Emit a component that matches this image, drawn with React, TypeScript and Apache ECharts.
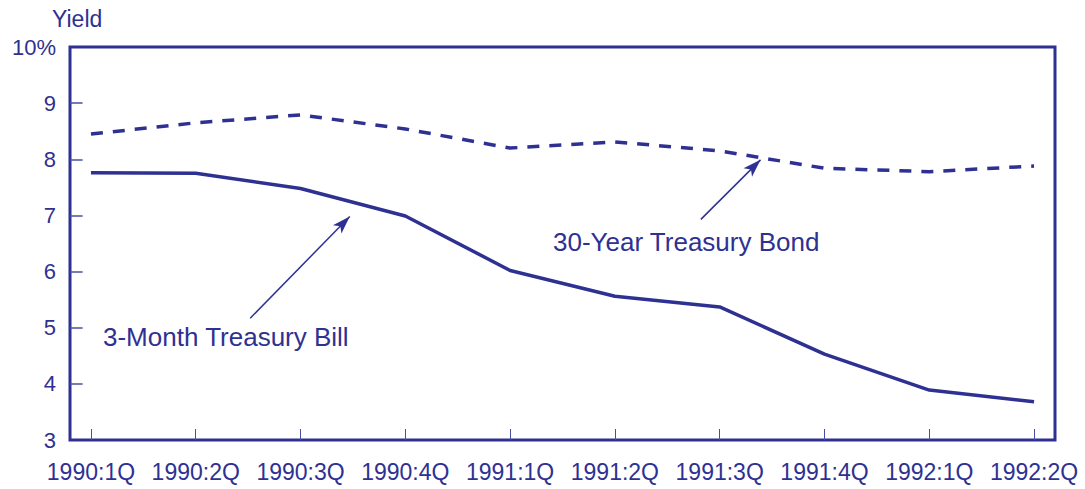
import React, { useEffect, useRef } from "react";
import * as echarts from "echarts";

const categories = ["1990:1Q", "1990:2Q", "1990:3Q", "1990:4Q", "1991:1Q", "1991:2Q", "1991:3Q", "1991:4Q", "1992:1Q", "1992:2Q"];
const billValues = [7.76, 7.75, 7.48, 6.99, 6.02, 5.56, 5.37, 4.53, 3.89, 3.68];
const bondValues = [8.45, 8.65, 8.79, 8.54, 8.2, 8.31, 8.15, 7.84, 7.78, 7.88];
const yTicks = [3, 4, 5, 6, 7, 8, 9, 10];
const billArrow = [[1.52, 5.17], [2.47, 6.98]];
const bondArrow = [[5.82, 6.93], [6.39, 7.99]];

const C = "#2e3192";
const TICK = "#4a4ea0";
const FONT = "Liberation Sans";
const PAD = 0.2;
const TICK_LEN = 0.12;

export default function App() {
  const ref = useRef<HTMLDivElement>(null);
  useEffect(() => {
    const chart = echarts.init(ref.current!, null, { renderer: "svg" });
    const pos = categories.map((_, i) => i + PAD);
    const arrowLine = (pts: number[][]) => ({
      silent: true,
      symbol: ["none", "arrow"],
      symbolSize: [9, 18],
      lineStyle: { color: C, width: 1.5, type: "solid" },
      label: { show: false },
      data: [[{ coord: [pts[0][0] + PAD, pts[0][1]] }, { coord: [pts[1][0] + PAD, pts[1][1]] }]],
    });
    chart.setOption({
      animation: false,
      backgroundColor: "#ffffff",
      grid: { left: 70, top: 47, right: 30, bottom: 49, show: true, borderColor: C, borderWidth: 3, backgroundColor: "transparent" },
      xAxis: {
        type: "value",
        min: 0,
        max: categories.length - 1 + 2 * PAD,
        splitLine: { show: false },
        axisLine: { show: false },
        axisTick: { show: true, inside: true, length: 11, customValues: pos, lineStyle: { color: TICK, width: 1 } },
        axisLabel: {
          customValues: pos,
          formatter: (v: number) => categories[Math.round(v - PAD)] ?? "",
          color: C,
          fontFamily: FONT,
          fontSize: 23,
          margin: 20,
        },
      },
      yAxis: {
        type: "value",
        min: 3,
        max: 10,
        interval: 1,
        splitLine: { show: false },
        axisLine: { show: false },
        axisTick: { show: false },
        axisLabel: {
          formatter: (v: number) => (v === 10 ? "10%" : String(v)),
          color: C,
          fontFamily: FONT,
          fontSize: 22,
          margin: 14,
        },
      },
      series: [
        {
          name: "yTickMarks",
          type: "line",
          data: [],
          silent: true,
          markLine: {
            silent: true,
            symbol: ["none", "none"],
            label: { show: false },
            lineStyle: { color: TICK, width: 1.5, type: "solid" },
            data: yTicks
              .filter((v) => v > 3 && v < 10)
              .map((v) => [{ coord: [0, v] }, { coord: [TICK_LEN, v] }]),
          },
        },
        {
          name: "3-Month Treasury Bill",
          type: "line",
          data: billValues.map((v, i) => [i + PAD, v]),
          showSymbol: false,
          lineStyle: { color: C, width: 3.5 },
          markLine: arrowLine(billArrow),
        },
        {
          name: "30-Year Treasury Bond",
          type: "line",
          data: bondValues.map((v, i) => [i + PAD, v]),
          showSymbol: false,
          lineStyle: { color: C, width: 3.5, type: [12, 10] },
          markLine: arrowLine(bondArrow),
        },
      ],
      graphic: [
        { type: "text", left: 52, top: 7, style: { text: "Yield", fill: C, font: `23px "${FONT}"` } },
        { type: "text", left: 103, top: 324, style: { text: "3-Month Treasury Bill", fill: C, font: `26px "${FONT}"` } },
        { type: "text", left: 553, top: 229, style: { text: "30-Year Treasury Bond", fill: C, font: `26px "${FONT}"` } },
      ],
    });
    return () => chart.dispose();
  }, []);
  return <div ref={ref} style={{ position: "absolute", left: 0, top: 0, width: 1085, height: 489 }} />;
}
